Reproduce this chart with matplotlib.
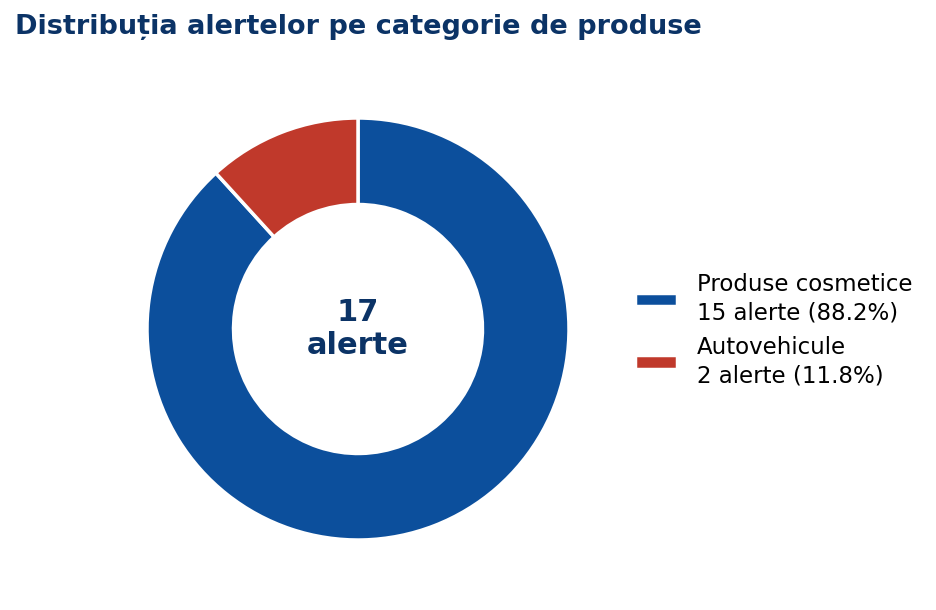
import matplotlib
matplotlib.use("Agg")
import matplotlib.pyplot as plt

categories = ["Produse cosmetice", "Autovehicule"]
counts = [15, 2]
colors = ["#0c4f9c", "#c0392b"]
title = "Distribuția alertelor pe categorie de produse"
center_word = "alerte"

total = sum(counts)
labels = [f"{c}\n{n} alerte ({n / total * 100:.1f}%)" for c, n in zip(categories, counts)]

W, H = 937, 610
fig = plt.figure(figsize=(W / 100, H / 100), dpi=100)
fig.patch.set_facecolor("white")

cx, cy, r = 358, 329, 211
lim = 1.2
side = 2 * lim * r
ax = fig.add_axes([(cx - side / 2) / W, (H - cy - side / 2) / H, side / W, side / H])
wedges, _ = ax.pie(counts, colors=colors, startangle=90, counterclock=False,
                   radius=1.0, wedgeprops=dict(width=0.41, edgecolor="white", linewidth=2.5))
ax.set_xlim(-lim, lim)
ax.set_ylim(-lim, lim)
ax.set_aspect("equal")
ax.axis("off")

ax.text(0, 0, f"{total}\n{center_word}", ha="center", va="center",
        fontsize=22, fontweight="bold", color="#0b3366", linespacing=1.15)

fig.text(15 / W, 1 - 27 / H, title, ha="left", va="center",
         fontsize=19.5, fontweight="bold", color="#0b3366")

leg = fig.legend(wedges, labels, loc="center left", bbox_to_anchor=(635 / W, 1 - 330 / H),
                 frameon=False, fontsize=16.5, handlelength=1.85, handleheight=0.55,
                 handletextpad=0.85, borderpad=0, borderaxespad=0, labelspacing=0.5)
for t in leg.get_texts():
    t.set_linespacing(1.3)

fig.savefig("out.png", dpi=100, facecolor="white")
